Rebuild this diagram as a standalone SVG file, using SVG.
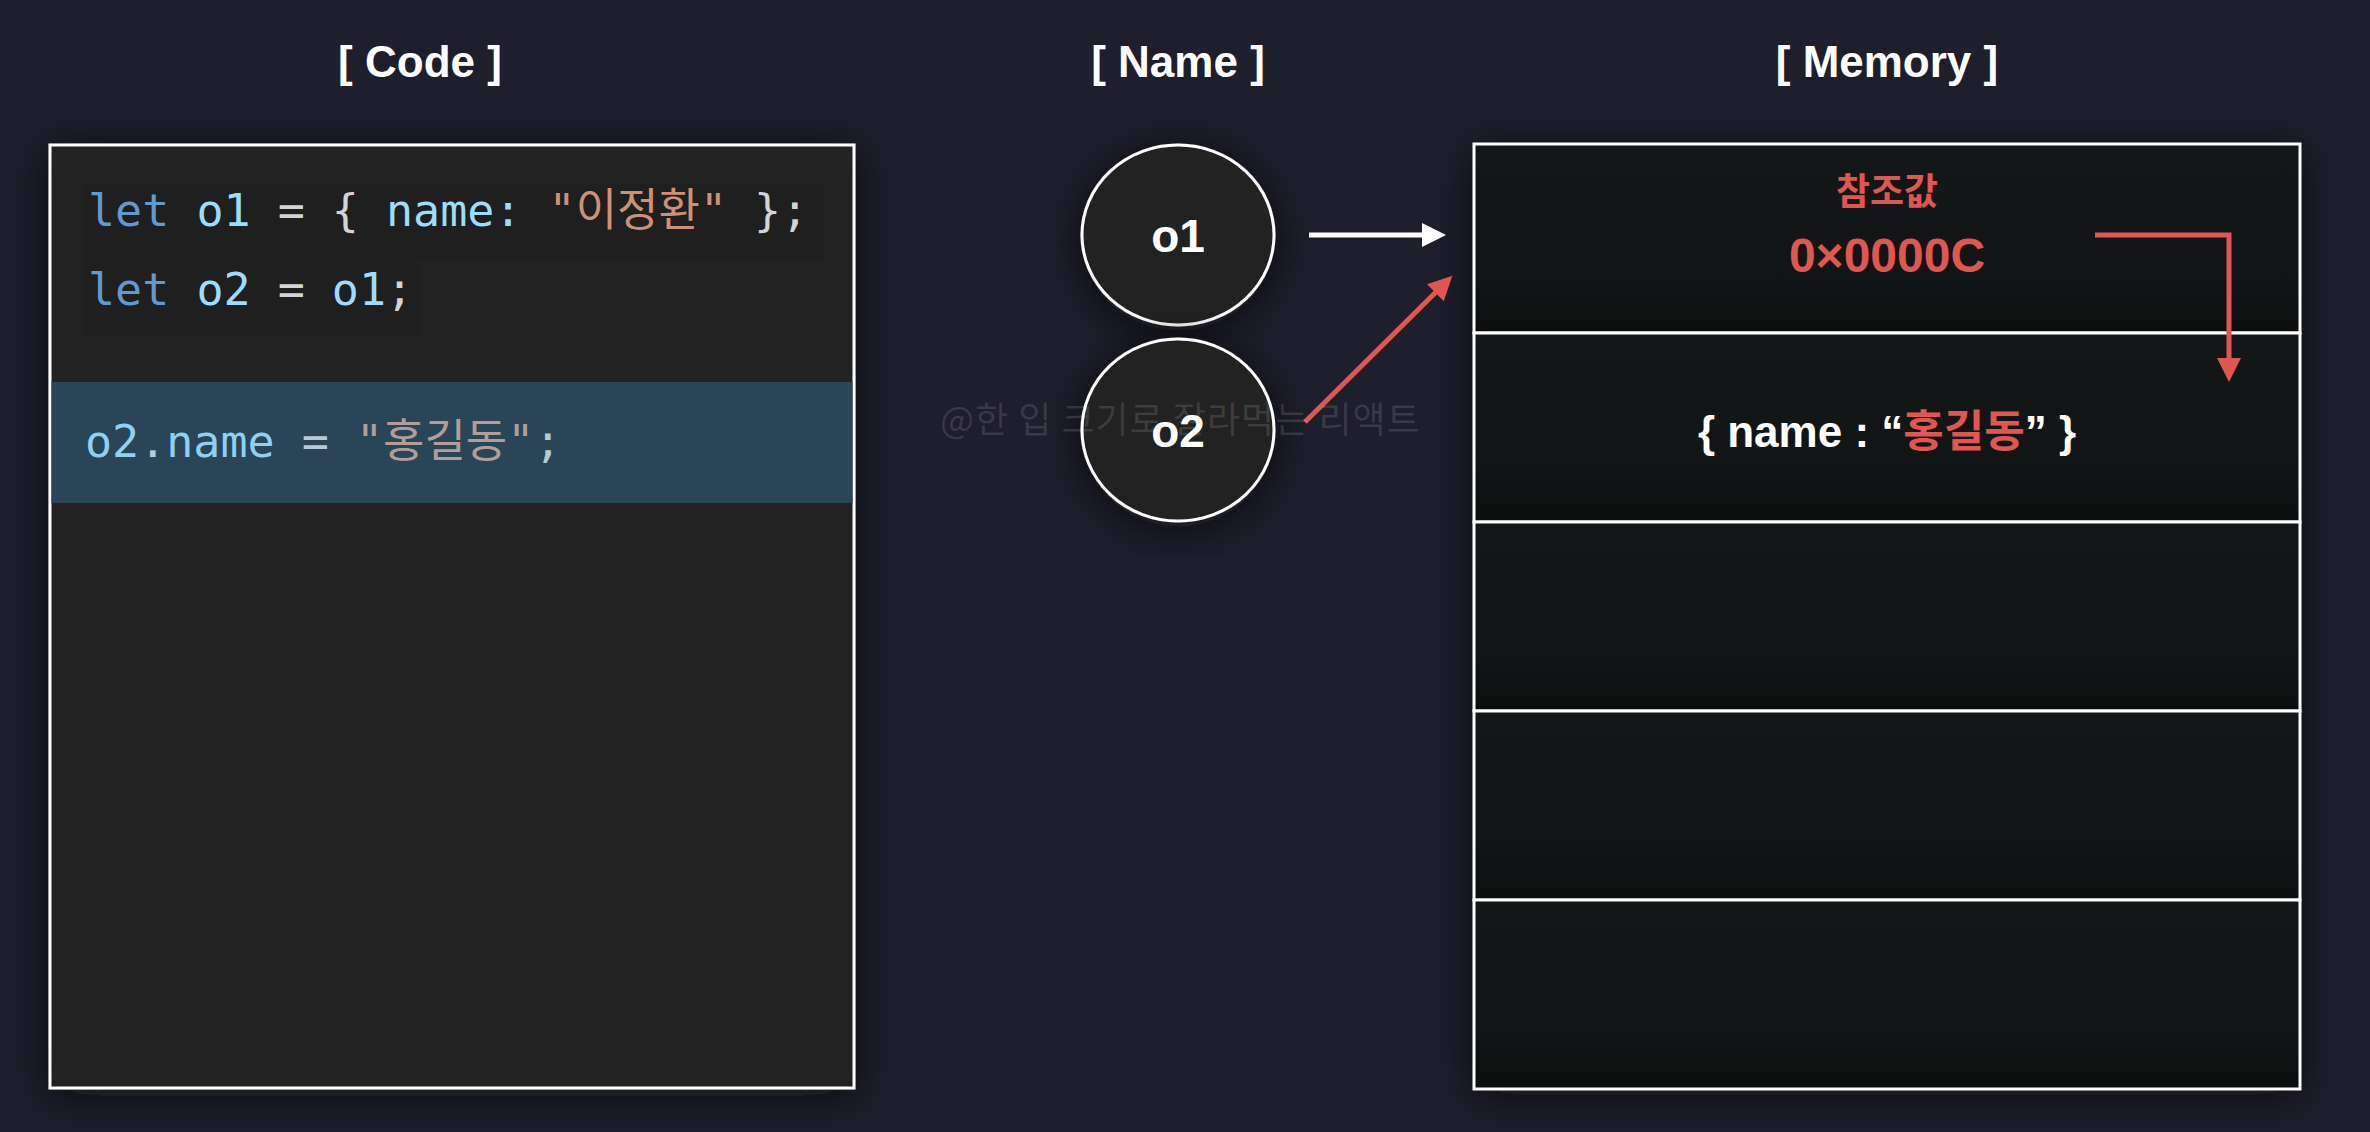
<svg xmlns="http://www.w3.org/2000/svg" width="2370" height="1132" viewBox="0 0 2370 1132">
<defs>
<style>
.title{font-family:"Liberation Sans","Noto Sans",sans-serif;font-weight:bold;font-size:44px;fill:#ffffff;text-anchor:middle}
.code{font-family:"DejaVu Sans Mono","Liberation Mono","Noto Sans CJK KR",monospace;font-size:45px}
.kw{fill:#6399d1}.var{fill:#9cdcfe}.op{fill:#d4d4d4}.str{fill:#ce9178}
.var3{fill:#8fd0f3}.op3{fill:#b8cad6}.str3{fill:#b39d99}
.node{fill:#202020;stroke:#ffffff;stroke-width:3}
.nlabel{font-family:"Liberation Sans","Noto Sans",sans-serif;font-weight:bold;font-size:46px;fill:#ffffff;text-anchor:middle}
.cell{fill:url(#rowgrad);stroke:#ffffff;stroke-width:3}
.mem{font-family:"Liberation Sans","Noto Sans CJK KR",sans-serif;font-weight:bold;text-anchor:middle}
.red{fill:#e05650}
.wm{font-family:"Noto Sans CJK KR","Noto Sans",sans-serif;font-size:36px;letter-spacing:1px;fill:#ffffff;fill-opacity:0.12}
</style>
<linearGradient id="rowgrad" x1="0" y1="0" x2="0" y2="1">
<stop offset="0" stop-color="#131718"/>
<stop offset="0.7" stop-color="#121516"/>
<stop offset="1" stop-color="#0c0e0e"/>
</linearGradient>
<filter id="shadow" x="-20%" y="-20%" width="140%" height="140%">
<feDropShadow dx="0" dy="6" stdDeviation="22" flood-color="#08080f" flood-opacity="0.7"/>
</filter>
<marker id="headW" markerUnits="userSpaceOnUse" markerWidth="26" markerHeight="26" refX="1" refY="12" orient="auto">
<path d="M0,0 L24,12 L0,24 Z" fill="#ffffff"/>
</marker>
<marker id="headR" markerUnits="userSpaceOnUse" markerWidth="26" markerHeight="26" refX="1" refY="12" orient="auto">
<path d="M0,0 L24,12 L0,24 Z" fill="#e05650"/>
</marker>
</defs>
<rect x="0" y="0" width="2370" height="1132" fill="#1e1e2c"/>

<g id="titles">
<text class="title" x="420" y="77">[ Code ]</text>
<text class="title" x="1178" y="77">[ Name ]</text>
<text class="title" x="1887" y="77">[ Memory ]</text>
</g>

<g id="code">
<rect x="50" y="145" width="804" height="943" fill="#202020" stroke="#ffffff" stroke-width="3" filter="url(#shadow)"/>
<rect x="84" y="183" width="740" height="78" fill="#1f1f1f"/>
<rect x="84" y="261" width="336" height="76" fill="#1f1f1f"/>
<rect x="51.5" y="382" width="801" height="121" fill="#2a4557"/>
<text class="code" x="88" y="226" xml:space="preserve"><tspan class="kw">let</tspan> <tspan class="var">o1</tspan> <tspan class="op">=</tspan> <tspan class="op">{</tspan> <tspan class="var">name</tspan><tspan class="var">:</tspan> <tspan class="str">"이정환"</tspan> <tspan class="op">};</tspan></text>
<text class="code" x="88" y="305" xml:space="preserve"><tspan class="kw">let</tspan> <tspan class="var">o2</tspan> <tspan class="op">=</tspan> <tspan class="var">o1</tspan><tspan class="op">;</tspan></text>
<text class="code" x="85" y="457" xml:space="preserve"><tspan class="var3">o2</tspan><tspan class="op3">.</tspan><tspan class="var3">name</tspan> <tspan class="op3">=</tspan> <tspan class="str3">"홍길동"</tspan><tspan class="op3">;</tspan></text>
</g>

<g id="node-o1">
<ellipse class="node" cx="1178" cy="235" rx="96" ry="90" filter="url(#shadow)"/>
<text class="nlabel" x="1178" y="252">o1</text>
</g>
<g id="node-o2">
<ellipse class="node" cx="1178" cy="430" rx="96" ry="91" filter="url(#shadow)"/>
<text class="nlabel" x="1178" y="447">o2</text>
</g>

<g id="memory">
<rect x="1474" y="144" width="826" height="945" fill="#121516" filter="url(#shadow)"/>
<g id="mem-row1">
<rect class="cell" x="1474" y="144" width="826" height="189"/>
<text class="mem red" x="1887" y="205" font-size="37">참조값</text>
<text class="mem red" x="1887" y="272" font-size="48">0×0000C</text>
</g>
<g id="mem-row2">
<rect class="cell" x="1474" y="333" width="826" height="189"/>
<text class="mem" x="1887" y="447" font-size="44"><tspan fill="#ffffff">{ name : “</tspan><tspan class="red">홍길동</tspan><tspan fill="#ffffff">” }</tspan></text>
</g>
<g id="mem-row3"><rect class="cell" x="1474" y="522" width="826" height="189"/></g>
<g id="mem-row4"><rect class="cell" x="1474" y="711" width="826" height="189"/></g>
<g id="mem-row5"><rect class="cell" x="1474" y="900" width="826" height="189"/></g>
</g>

<g id="connectors" fill="none" stroke-width="5">
<line x1="1309" y1="235" x2="1423" y2="235" stroke="#ffffff" marker-end="url(#headW)"/>
<line x1="1305" y1="422" x2="1436" y2="292" stroke="#e05650" marker-end="url(#headR)"/>
<path d="M2095,235 H2229 V359" stroke="#e05650" marker-end="url(#headR)"/>
</g>

<text class="wm" x="940" y="433">@한 입 크기로 잘라먹는 리액트</text>
</svg>
